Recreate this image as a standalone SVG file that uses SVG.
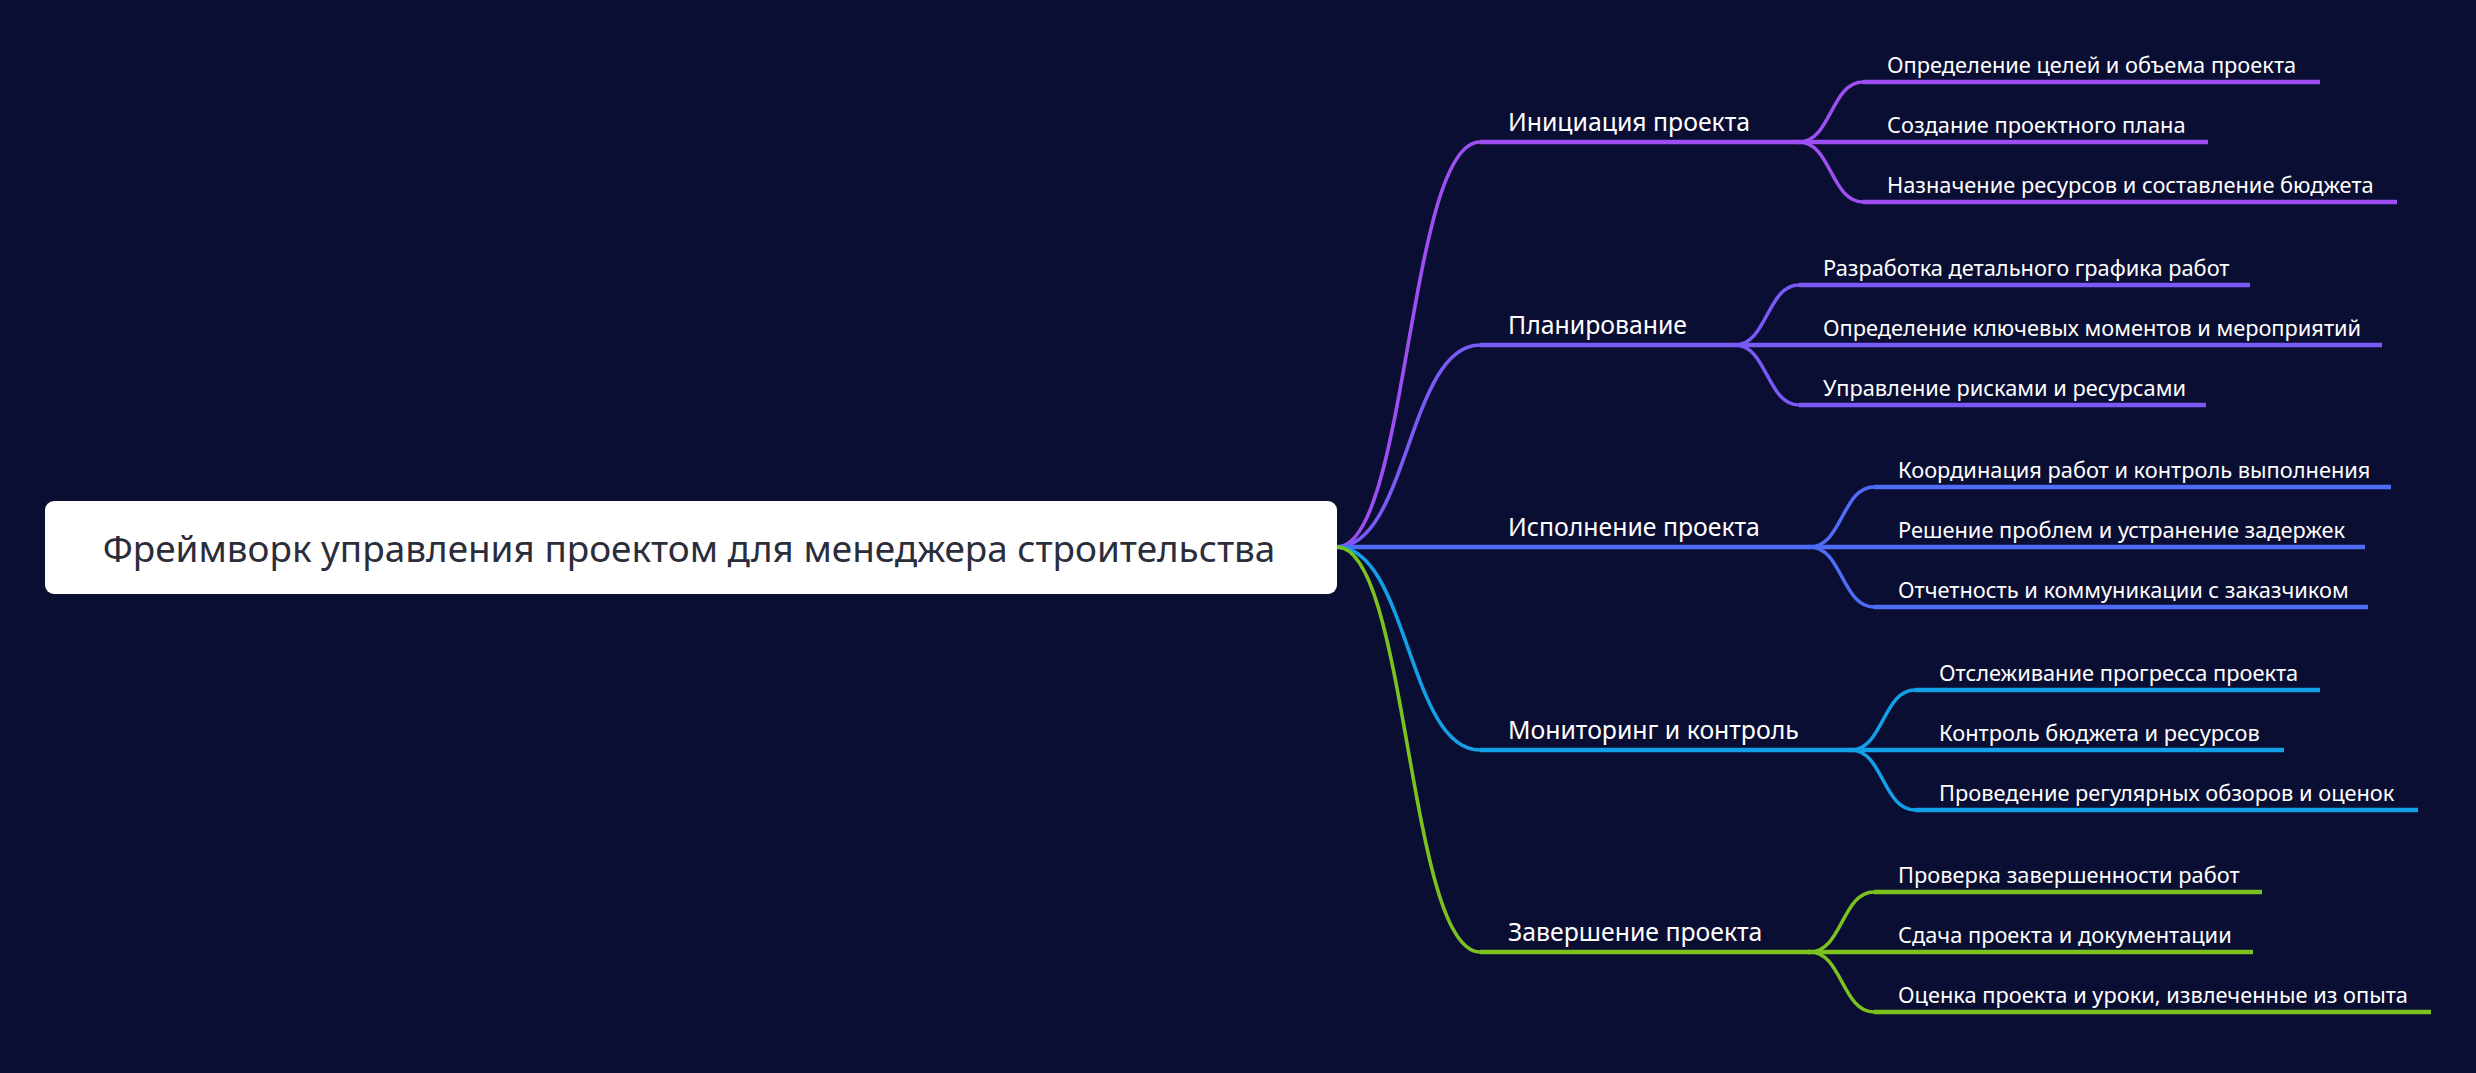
<svg xmlns="http://www.w3.org/2000/svg" width="2476" height="1073" viewBox="0 0 2476 1073">
<style>
.bg{fill:#0b0e33}
.e{fill:none;stroke-linecap:butt;stroke-linejoin:round}
.c{stroke-width:3.6}
.u{stroke-width:4.6}
.b1{stroke:#9d4ff2}
.b2{stroke:#7a5af5}
.b3{stroke:#4f6cf6}
.b4{stroke:#14a0e8}
.b5{stroke:#7cc21f}
.t1{font-family:"Noto Sans","Open Sans","DejaVu Sans",sans-serif;font-size:24.8px;fill:#ffffff}
.t2{font-family:"Noto Sans","Open Sans","DejaVu Sans",sans-serif;font-size:21.8px;fill:#ffffff}
.root{font-family:"Noto Sans","Open Sans","DejaVu Sans",sans-serif;font-size:36.9px;fill:#2b2d3a}
</style>
<rect class="bg" x="0" y="0" width="2476" height="1073"/>
<g id="connectors">
  <!-- branch 1 -->
  <path class="e c b1" d="M1337,547 C1408,547 1408,142 1480,142"/>
  <path class="e u b1" d="M1480,142 L1799,142"/>
  <path class="e c b1" d="M1799,142 C1831,142 1831,82 1863,82"/>
  <path class="e u b1" d="M1863,82 L2320,82"/>
  <path class="e u b1" d="M1797,142 L2208,142"/>
  <path class="e c b1" d="M1799,142 C1831,142 1831,202 1863,202"/>
  <path class="e u b1" d="M1863,202 L2397,202"/>
  <!-- branch 2 -->
  <path class="e c b2" d="M1337,547 C1408,547 1408,345 1480,345"/>
  <path class="e u b2" d="M1480,345 L1735,345"/>
  <path class="e c b2" d="M1735,345 C1767,345 1767,285 1799,285"/>
  <path class="e u b2" d="M1799,285 L2250,285"/>
  <path class="e u b2" d="M1733,345 L2382,345"/>
  <path class="e c b2" d="M1735,345 C1767,345 1767,405 1799,405"/>
  <path class="e u b2" d="M1799,405 L2206,405"/>
  <!-- branch 3 -->
  <path class="e u b3" d="M1337,547 L1810,547"/>
  <path class="e c b3" d="M1810,547 C1842,547 1842,487 1874,487"/>
  <path class="e u b3" d="M1874,487 L2391,487"/>
  <path class="e u b3" d="M1808,547 L2365,547"/>
  <path class="e c b3" d="M1810,547 C1842,547 1842,607 1874,607"/>
  <path class="e u b3" d="M1874,607 L2368,607"/>
  <!-- branch 4 -->
  <path class="e c b4" d="M1337,547 C1408,547 1408,750 1480,750"/>
  <path class="e u b4" d="M1480,750 L1851,750"/>
  <path class="e c b4" d="M1851,750 C1883,750 1883,690 1915,690"/>
  <path class="e u b4" d="M1915,690 L2320,690"/>
  <path class="e u b4" d="M1849,750 L2284,750"/>
  <path class="e c b4" d="M1851,750 C1883,750 1883,810 1915,810"/>
  <path class="e u b4" d="M1915,810 L2418,810"/>
  <!-- branch 5 -->
  <path class="e c b5" d="M1337,547 C1408,547 1408,952 1480,952"/>
  <path class="e u b5" d="M1480,952 L1810,952"/>
  <path class="e c b5" d="M1810,952 C1842,952 1842,892 1874,892"/>
  <path class="e u b5" d="M1874,892 L2262,892"/>
  <path class="e u b5" d="M1808,952 L2253,952"/>
  <path class="e c b5" d="M1810,952 C1842,952 1842,1012 1874,1012"/>
  <path class="e u b5" d="M1874,1012 L2431,1012"/>
</g>
<g id="root">
  <rect x="45" y="501" width="1292" height="93" rx="9" fill="#ffffff"/>
  <text class="root" x="689" y="562" text-anchor="middle">Фреймворк управления проектом для менеджера строительства</text>
</g>
<g id="n1"><text class="t1" x="1508" y="130.5">Инициация проекта</text></g>
<g id="n1a"><text class="t2" x="1887" y="72.5">Определение целей и объема проекта</text></g>
<g id="n1b"><text class="t2" x="1887" y="132.5">Создание проектного плана</text></g>
<g id="n1c"><text class="t2" x="1887" y="192.5">Назначение ресурсов и составление бюджета</text></g>
<g id="n2"><text class="t1" x="1508" y="333.5">Планирование</text></g>
<g id="n2a"><text class="t2" x="1823" y="275.5">Разработка детального графика работ</text></g>
<g id="n2b"><text class="t2" x="1823" y="335.5">Определение ключевых моментов и мероприятий</text></g>
<g id="n2c"><text class="t2" x="1823" y="395.5">Управление рисками и ресурсами</text></g>
<g id="n3"><text class="t1" x="1508" y="535.5">Исполнение проекта</text></g>
<g id="n3a"><text class="t2" x="1898" y="477.5">Координация работ и контроль выполнения</text></g>
<g id="n3b"><text class="t2" x="1898" y="537.5">Решение проблем и устранение задержек</text></g>
<g id="n3c"><text class="t2" x="1898" y="597.5">Отчетность и коммуникации с заказчиком</text></g>
<g id="n4"><text class="t1" x="1508" y="738.5">Мониторинг и контроль</text></g>
<g id="n4a"><text class="t2" x="1939" y="680.5">Отслеживание прогресса проекта</text></g>
<g id="n4b"><text class="t2" x="1939" y="740.5">Контроль бюджета и ресурсов</text></g>
<g id="n4c"><text class="t2" x="1939" y="800.5">Проведение регулярных обзоров и оценок</text></g>
<g id="n5"><text class="t1" x="1508" y="940.5">Завершение проекта</text></g>
<g id="n5a"><text class="t2" x="1898" y="882.5">Проверка завершенности работ</text></g>
<g id="n5b"><text class="t2" x="1898" y="942.5">Сдача проекта и документации</text></g>
<g id="n5c"><text class="t2" x="1898" y="1002.5">Оценка проекта и уроки, извлеченные из опыта</text></g>
</svg>
